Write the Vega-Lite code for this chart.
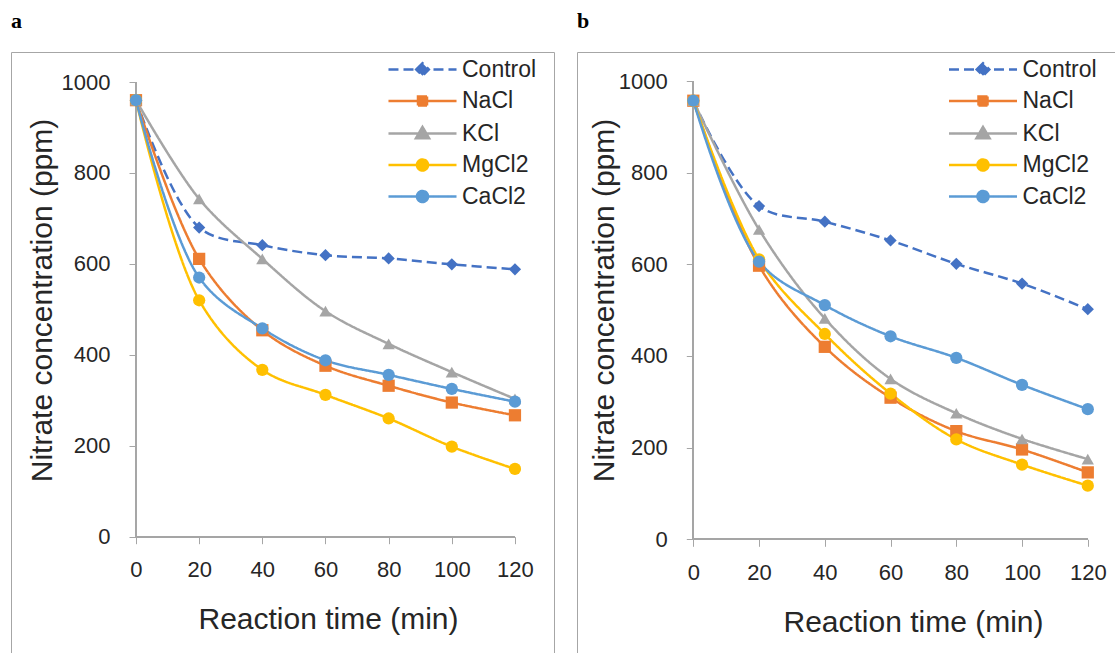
{
  "$schema": "https://vega.github.io/schema/vega-lite/v6.json",
  "background": "white",
  "padding": {"left": 10, "top": 9, "right": 0, "bottom": 0},
  "autosize": {"type": "pad"},
  "config": {
    "view": {"stroke": "#a6a6a6", "strokeWidth": 1},
    "font": "Liberation Sans",
    "concat": {"spacing": 21},
    "axis": {
      "domain": false, "grid": false,
      "tickColor": "#a6a6a6", "tickSize": 7, "tickWidth": 1,
      "labelFont": "Liberation Sans", "labelFontSize": 22, "labelColor": "#262626",
      "titleFont": "Liberation Sans", "titleFontSize": 30, "titleColor": "#262626", "titleFontWeight": "normal"
    },
    "title": {"font": "Liberation Serif", "fontSize": 22, "fontWeight": "bold", "color": "#000000", "anchor": "start", "frame": "group", "baseline": "alphabetic", "offset": 19}
  },
  "datasets": {
    "a": [
      {"series": "Control", "time": 0, "value": 960}, {"series": "Control", "time": 20, "value": 680}, {"series": "Control", "time": 40, "value": 641}, {"series": "Control", "time": 60, "value": 619}, {"series": "Control", "time": 80, "value": 612}, {"series": "Control", "time": 100, "value": 599}, {"series": "Control", "time": 120, "value": 588},
      {"series": "NaCl", "time": 0, "value": 960}, {"series": "NaCl", "time": 20, "value": 611}, {"series": "NaCl", "time": 40, "value": 454}, {"series": "NaCl", "time": 60, "value": 376}, {"series": "NaCl", "time": 80, "value": 332}, {"series": "NaCl", "time": 100, "value": 295}, {"series": "NaCl", "time": 120, "value": 267},
      {"series": "KCl", "time": 0, "value": 960}, {"series": "KCl", "time": 20, "value": 743}, {"series": "KCl", "time": 40, "value": 611}, {"series": "KCl", "time": 60, "value": 496}, {"series": "KCl", "time": 80, "value": 424}, {"series": "KCl", "time": 100, "value": 362}, {"series": "KCl", "time": 120, "value": 303},
      {"series": "MgCl2", "time": 0, "value": 960}, {"series": "MgCl2", "time": 20, "value": 520}, {"series": "MgCl2", "time": 40, "value": 367}, {"series": "MgCl2", "time": 60, "value": 312}, {"series": "MgCl2", "time": 80, "value": 260}, {"series": "MgCl2", "time": 100, "value": 198}, {"series": "MgCl2", "time": 120, "value": 149},
      {"series": "CaCl2", "time": 0, "value": 960}, {"series": "CaCl2", "time": 20, "value": 570}, {"series": "CaCl2", "time": 40, "value": 458}, {"series": "CaCl2", "time": 60, "value": 388}, {"series": "CaCl2", "time": 80, "value": 356}, {"series": "CaCl2", "time": 100, "value": 325}, {"series": "CaCl2", "time": 120, "value": 297}
    ],
    "b": [
      {"series": "Control", "time": 0, "value": 957}, {"series": "Control", "time": 20, "value": 727}, {"series": "Control", "time": 40, "value": 693}, {"series": "Control", "time": 60, "value": 652}, {"series": "Control", "time": 80, "value": 601}, {"series": "Control", "time": 100, "value": 558}, {"series": "Control", "time": 120, "value": 502},
      {"series": "NaCl", "time": 0, "value": 957}, {"series": "NaCl", "time": 20, "value": 597}, {"series": "NaCl", "time": 40, "value": 420}, {"series": "NaCl", "time": 60, "value": 309}, {"series": "NaCl", "time": 80, "value": 236}, {"series": "NaCl", "time": 100, "value": 196}, {"series": "NaCl", "time": 120, "value": 146},
      {"series": "KCl", "time": 0, "value": 957}, {"series": "KCl", "time": 20, "value": 676}, {"series": "KCl", "time": 40, "value": 482}, {"series": "KCl", "time": 60, "value": 350}, {"series": "KCl", "time": 80, "value": 275}, {"series": "KCl", "time": 100, "value": 219}, {"series": "KCl", "time": 120, "value": 175},
      {"series": "MgCl2", "time": 0, "value": 957}, {"series": "MgCl2", "time": 20, "value": 611}, {"series": "MgCl2", "time": 40, "value": 448}, {"series": "MgCl2", "time": 60, "value": 318}, {"series": "MgCl2", "time": 80, "value": 218}, {"series": "MgCl2", "time": 100, "value": 163}, {"series": "MgCl2", "time": 120, "value": 117},
      {"series": "CaCl2", "time": 0, "value": 957}, {"series": "CaCl2", "time": 20, "value": 606}, {"series": "CaCl2", "time": 40, "value": 511}, {"series": "CaCl2", "time": 60, "value": 443}, {"series": "CaCl2", "time": 80, "value": 396}, {"series": "CaCl2", "time": 100, "value": 337}, {"series": "CaCl2", "time": 120, "value": 284}
    ]
  },
  "hconcat": [
    {
      "title": "a",
      "width": 543,
      "height": 606,
      "data": {"name": "a"},
      "layer": [
        {
          "mark": {"type": "rule", "color": "#a6a6a6", "strokeWidth": 1},
          "encoding": {
            "x": {"datum": 0, "type": "quantitative", "scale": {"domain": [-39.58, 132.36], "nice": false, "zero": false}},
            "y": {"datum": 0, "type": "quantitative", "scale": {"domain": [-266.8, 1066.0], "nice": false, "zero": false}},
            "y2": {"datum": 1000}
          }
        },
        {
          "mark": {"type": "rule", "color": "#a6a6a6", "strokeWidth": 1},
          "encoding": {
            "x": {"datum": 0, "type": "quantitative"},
            "x2": {"datum": 120},
            "y": {"datum": 0, "type": "quantitative"}
          }
        },
        {
          "mark": {"type": "line", "interpolate": "catmull-rom", "strokeWidth": 2.5},
          "encoding": {
            "x": {"field": "time", "type": "quantitative", "scale": {"domain": [-39.58, 132.36], "nice": false, "zero": false},
              "axis": {"values": [0, 20, 40, 60, 80, 100, 120], "offset": -121.3, "labelPadding": 16, "title": "Reaction time (min)", "titleX": 317, "titleY": 92, "titleBaseline": "alphabetic", "titleAlign": "center", "titleAnchor": null}},
            "y": {"field": "value", "type": "quantitative", "scale": {"domain": [-266.8, 1066.0], "nice": false, "zero": false},
              "axis": {"values": [0, 200, 400, 600, 800, 1000], "format": "d", "offset": -125, "labelPadding": 19, "title": "Nitrate concentration (ppm)", "titleX": -85, "titleY": 248, "titleAngle": 270, "titleBaseline": "alphabetic", "titleAlign": "center", "titleAnchor": null}},
            "color": {"field": "series", "type": "nominal",
              "scale": {"domain": ["Control", "NaCl", "KCl", "MgCl2", "CaCl2"], "range": ["#4472C4", "#ED7D31", "#A5A5A5", "#FFC000", "#5B9BD5"]},
              "legend": {
                "orient": "none", "legendX": 400, "legendY": 6, "title": null,
                "labelFont": "Liberation Sans", "labelFontSize": 23, "labelColor": "#262626",
                "symbolSize": 144, "labelOffset": 28, "rowPadding": 7.5, "padding": 0,
                "encode": {"symbols": {"update": {
                  "shape": {"signal": "datum.value === 'Control' ? 'M-5.67,0H5.67M-1.05,0L0,-1.05L1.05,0L0,1.05Z' : datum.value === 'NaCl' ? 'M-5.67,0H5.67M-0.75,-0.75H0.75V0.75H-0.75Z' : datum.value === 'KCl' ? 'M-5.67,0H5.67M0,-1.1L1.1,0.8H-1.1Z' : 'M-5.67,0H5.67M0.92,0A0.92,0.92 0 1,1 -0.92,0A0.92,0.92 0 1,1 0.92,0Z'"},
                  "fill": {"scale": "color", "field": "value"},
                  "stroke": {"scale": "color", "field": "value"},
                  "strokeDash": {"signal": "datum.value === 'Control' ? [10,5] : [1,0]"},
                  "strokeWidth": {"value": 2.5},
                  "opacity": {"value": 1}
                }}}
              }},
            "strokeDash": {"field": "series", "type": "nominal",
              "scale": {"domain": ["NaCl", "Control", "KCl", "MgCl2", "CaCl2"], "range": [[1, 0], [10, 5], [1, 0], [1, 0], [1, 0]]},
              "legend": null}
          }
        },
        {
          "mark": {"type": "point", "filled": true, "opacity": 1, "size": 150, "strokeWidth": 0},
          "encoding": {
            "x": {"field": "time", "type": "quantitative"},
            "y": {"field": "value", "type": "quantitative"},
            "color": {"field": "series", "type": "nominal"},
            "shape": {"field": "series", "type": "nominal",
              "scale": {"domain": ["CaCl2", "Control", "KCl", "MgCl2", "NaCl"], "range": ["circle", "diamond", "triangle-up", "circle", "square"]},
              "legend": null}
          }
        }
      ]
    },
    {
      "title": "b",
      "width": 543,
      "height": 606,
      "data": {"name": "b"},
      "layer": [
        {
          "mark": {"type": "rule", "color": "#a6a6a6", "strokeWidth": 1},
          "encoding": {
            "x": {"datum": 0, "type": "quantitative", "scale": {"domain": [-35.38, 129.8], "nice": false, "zero": false}},
            "y": {"datum": 0, "type": "quantitative", "scale": {"domain": [-259.0, 1063.3], "nice": false, "zero": false}},
            "y2": {"datum": 1000}
          }
        },
        {
          "mark": {"type": "rule", "color": "#a6a6a6", "strokeWidth": 1},
          "encoding": {
            "x": {"datum": 0, "type": "quantitative"},
            "x2": {"datum": 120},
            "y": {"datum": 0, "type": "quantitative"}
          }
        },
        {
          "mark": {"type": "line", "interpolate": "catmull-rom", "strokeWidth": 2.5},
          "encoding": {
            "x": {"field": "time", "type": "quantitative", "scale": {"domain": [-35.38, 129.8], "nice": false, "zero": false},
              "axis": {"values": [0, 20, 40, 60, 80, 100, 120], "offset": -118.7, "labelPadding": 16, "title": "Reaction time (min)", "titleX": 336, "titleY": 92, "titleBaseline": "alphabetic", "titleAlign": "center", "titleAnchor": null}},
            "y": {"field": "value", "type": "quantitative", "scale": {"domain": [-259.0, 1063.3], "nice": false, "zero": false},
              "axis": {"values": [0, 200, 400, 600, 800, 1000], "format": "d", "offset": -116.3, "labelPadding": 19, "title": "Nitrate concentration (ppm)", "titleX": -80, "titleY": 248, "titleAngle": 270, "titleBaseline": "alphabetic", "titleAlign": "center", "titleAnchor": null}},
            "color": {"field": "series", "type": "nominal",
              "scale": {"domain": ["Control", "NaCl", "KCl", "MgCl2", "CaCl2"], "range": ["#4472C4", "#ED7D31", "#A5A5A5", "#FFC000", "#5B9BD5"]},
              "legend": {
                "orient": "none", "legendX": 394.5, "legendY": 6, "title": null,
                "labelFont": "Liberation Sans", "labelFontSize": 23, "labelColor": "#262626",
                "symbolSize": 144, "labelOffset": 28, "rowPadding": 7.5, "padding": 0,
                "encode": {"symbols": {"update": {
                  "shape": {"signal": "datum.value === 'Control' ? 'M-5.67,0H5.67M-1.05,0L0,-1.05L1.05,0L0,1.05Z' : datum.value === 'NaCl' ? 'M-5.67,0H5.67M-0.75,-0.75H0.75V0.75H-0.75Z' : datum.value === 'KCl' ? 'M-5.67,0H5.67M0,-1.1L1.1,0.8H-1.1Z' : 'M-5.67,0H5.67M0.92,0A0.92,0.92 0 1,1 -0.92,0A0.92,0.92 0 1,1 0.92,0Z'"},
                  "fill": {"scale": "color", "field": "value"},
                  "stroke": {"scale": "color", "field": "value"},
                  "strokeDash": {"signal": "datum.value === 'Control' ? [10,5] : [1,0]"},
                  "strokeWidth": {"value": 2.5},
                  "opacity": {"value": 1}
                }}}
              }},
            "strokeDash": {"field": "series", "type": "nominal",
              "scale": {"domain": ["NaCl", "Control", "KCl", "MgCl2", "CaCl2"], "range": [[1, 0], [10, 5], [1, 0], [1, 0], [1, 0]]},
              "legend": null}
          }
        },
        {
          "mark": {"type": "point", "filled": true, "opacity": 1, "size": 150, "strokeWidth": 0},
          "encoding": {
            "x": {"field": "time", "type": "quantitative"},
            "y": {"field": "value", "type": "quantitative"},
            "color": {"field": "series", "type": "nominal"},
            "shape": {"field": "series", "type": "nominal",
              "scale": {"domain": ["CaCl2", "Control", "KCl", "MgCl2", "NaCl"], "range": ["circle", "diamond", "triangle-up", "circle", "square"]},
              "legend": null}
          }
        }
      ]
    }
  ],
  "resolve": {
    "scale": {"x": "independent", "y": "independent", "color": "shared", "shape": "shared", "strokeDash": "shared"},
    "legend": {"color": "independent", "shape": "independent", "strokeDash": "independent"}
  }
}
